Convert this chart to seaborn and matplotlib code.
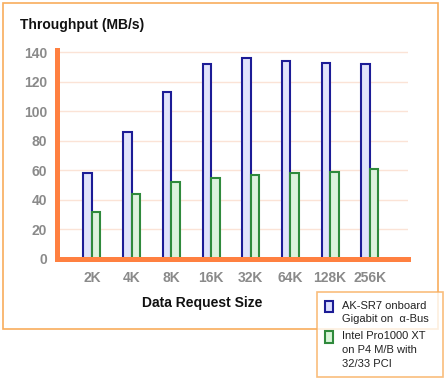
import pandas as pd
import matplotlib.pyplot as plt
import seaborn as sns
from matplotlib.patches import Rectangle, Patch

sizes = ["2K", "4K", "8K", "16K", "32K", "64K", "128K", "256K"]
ak_sr7 = [58, 86, 113, 132, 136, 134, 133, 132]
intel = [32, 44, 52, 55, 57, 58, 59, 61]
series = ["AK-SR7 onboard\nGigabit on  \u03b1-Bus", "Intel Pro1000 XT\non P4 M/B with\n32/33 PCI"]
yticks = [0, 20, 40, 60, 80, 100, 120, 140]

df = pd.DataFrame({
    "size": sizes * 2,
    "value": ak_sr7 + intel,
    "series": [series[0]] * len(sizes) + [series[1]] * len(sizes),
})

sns.set_style("white")
plt.rcParams["font.family"] = ["Liberation Sans", "DejaVu Sans"]

fills = ["#dcdfff", "#d9f5d9"]
edges = ["#1c1c96", "#2f8a3c"]
orange = "#ff8040"
grey = "#8a8a8a"

fig = plt.figure(figsize=(4.45, 3.78), dpi=100)
ax = fig.add_axes([57 / 445, 1 - 259 / 378, (408 - 57) / 445, (259 - 50) / 378])

# outer frame
fig.patches.append(Rectangle((3 / 445, 1 - 329 / 378), 435 / 445, 326 / 378,
                             transform=fig.transFigure, fill=False,
                             edgecolor="#f8ad5c", linewidth=1.2, zorder=0))

sns.barplot(data=df, x="size", y="value", hue="series", order=sizes,
            hue_order=series, palette=fills, width=0.43, gap=0,
            legend=False, ax=ax, zorder=3)
for i, bar in enumerate(ax.patches):
    bar.set_edgecolor(edges[i // len(sizes)])
    bar.set_linewidth(1.5)

ax.set_xlim(-0.88, 7.96)
ax.set_ylim(0, 141.5)
ax.set_yticks(yticks)
ax.grid(axis="y", color="#fbe3d6", linewidth=1, zorder=0)
ax.set_axisbelow(True)

for s in ["top", "right"]:
    ax.spines[s].set_visible(False)
for s in ["left", "bottom"]:
    ax.spines[s].set_color(orange)
    ax.spines[s].set_linewidth(3.6)
    ax.spines[s].set_zorder(5)

ax.tick_params(axis="both", length=0, labelcolor=grey, labelsize=10)
ax.tick_params(axis="y", pad=7)
ax.tick_params(axis="x", pad=9)
for lbl in ax.get_xticklabels() + ax.get_yticklabels():
    lbl.set_fontweight("bold")

ax.set_ylabel("")
ax.set_xlabel("Data Request Size", fontsize=10, fontweight="bold", color="#111111")
ax.xaxis.set_label_coords((202 - 57) / 351, -0.175)

fig.text(20 / 445, 1 - 18 / 378, "Throughput (MB/s)", fontsize=10,
         fontweight="bold", color="#111111", ha="left", va="top")

handles = [Patch(facecolor=fills[k], edgecolor=edges[k], linewidth=1.5) for k in range(2)]
leg = fig.legend(handles, series, loc="lower left",
                 bbox_to_anchor=(317 / 445, 1 / 378, 126 / 445, 87 / 378),
                 mode="expand", fontsize=8, frameon=True, fancybox=False,
                 handlelength=0.7, handleheight=1.25, handletextpad=0.8,
                 labelspacing=0.65, borderpad=0.75, borderaxespad=0)
leg.get_frame().set_edgecolor("#f8ad5c")
leg.get_frame().set_linewidth(1.2)
for t in leg.get_texts():
    t.set_color("#222222")
    t.set_linespacing(1.45)
# put each swatch next to the first line of its label
for col in leg._legend_handle_box.get_children():
    for item in col.get_children():
        item.align = "top"

plt.savefig("out.png", dpi=100)
plt.close()
